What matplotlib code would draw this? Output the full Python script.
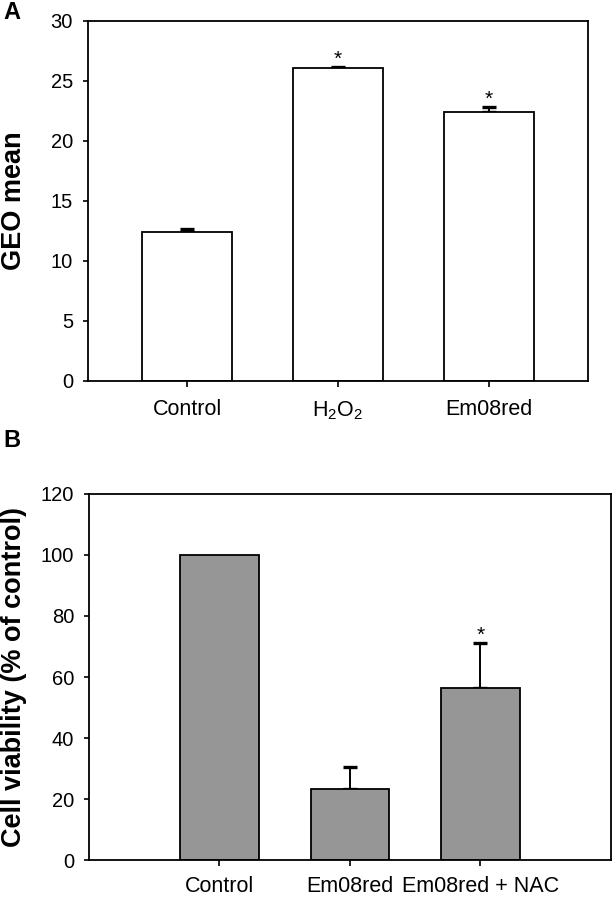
import numpy as np
import matplotlib
matplotlib.use("Agg")
from matplotlib import pyplot as plt

plt.rcParams['font.family'] = ['Liberation Sans', 'DejaVu Sans']
plt.rcParams['mathtext.fontset'] = 'custom'
plt.rcParams['mathtext.rm'] = 'Liberation Sans'
plt.rcParams['mathtext.it'] = 'Liberation Sans'

# panel A data
a_labels = ['Control', r'$\mathregular{H_2O_2}$', 'Em08red']
a_means = [12.4, 26.1, 22.45]
a_errs = [0.25, 0.05, 0.4]
a_stars = ['', '*', '*']

# panel B data
b_labels = ['Control', 'Em08red', 'Em08red + NAC']
b_means = [100.0, 23.3, 56.4]
b_errs = [0.0, 7.2, 14.7]
b_stars = ['', '', '*']

fig = plt.figure(figsize=(6.13, 8.97), dpi=100)
ax_a = fig.add_axes([0.1436, 0.5753, 0.8157, 0.4013])
ax_b = fig.add_axes([0.1452, 0.0412, 0.8515, 0.4081])


def draw_panel(ax, labels, means, errs, stars, color, ylim, yticks, ylabel, xlim, xpad):
    x = np.arange(len(means))
    means = np.asarray(means)
    errs = np.asarray(errs)
    ax.bar(x, means, width=0.6, color=color, edgecolor='black', linewidth=1.3, zorder=2)
    has_err = errs > 0
    ax.errorbar(x[has_err], means[has_err],
                yerr=[np.zeros(has_err.sum()), errs[has_err]], fmt='none', ecolor='black',
                elinewidth=1.4, capsize=5, capthick=2.4, zorder=1)
    for xi, m, e, s in zip(x, means, errs, stars):
        if s:
            ax.annotate(s, (xi, m + e), xytext=(0, 1.5), textcoords='offset points',
                        ha='center', va='baseline', fontsize=15)
    ax.set_xlim(*xlim)
    ax.set_ylim(*ylim)
    ax.set_yticks(yticks)
    ax.set_xticks(x)
    ax.set_xticklabels(labels)
    ax.tick_params(axis='y', direction='out', length=3.8, width=1.2, pad=7, labelsize=14.5)
    ax.tick_params(axis='x', direction='out', length=4.3, width=1.2, pad=xpad, labelsize=15.5)
    for sp in ax.spines.values():
        sp.set_linewidth(1.3)
    ax.set_ylabel(ylabel, fontsize=19.5, fontweight='bold')


draw_panel(ax_a, a_labels, a_means, a_errs, a_stars, 'white', (0, 30),
           [0, 5, 10, 15, 20, 25, 30], 'GEO mean', (-0.656, 2.656), 9)
draw_panel(ax_b, b_labels, b_means, b_errs, b_stars, '#969696', (0, 120),
           [0, 20, 40, 60, 80, 100, 120], 'Cell viability (% of control)', (-1.0, 3.0), 7)

ax_a.yaxis.set_label_coords(-0.122, 0.5)
ax_b.yaxis.set_label_coords(-0.119, 0.5)

fig.text(3 / 613, 1 - 12.5 / 897, 'A', fontsize=17, fontweight='bold', ha='left', va='center')
fig.text(3 / 613, 1 - 440 / 897, 'B', fontsize=17, fontweight='bold', ha='left', va='center')

fig.savefig('out.png', dpi=100)
